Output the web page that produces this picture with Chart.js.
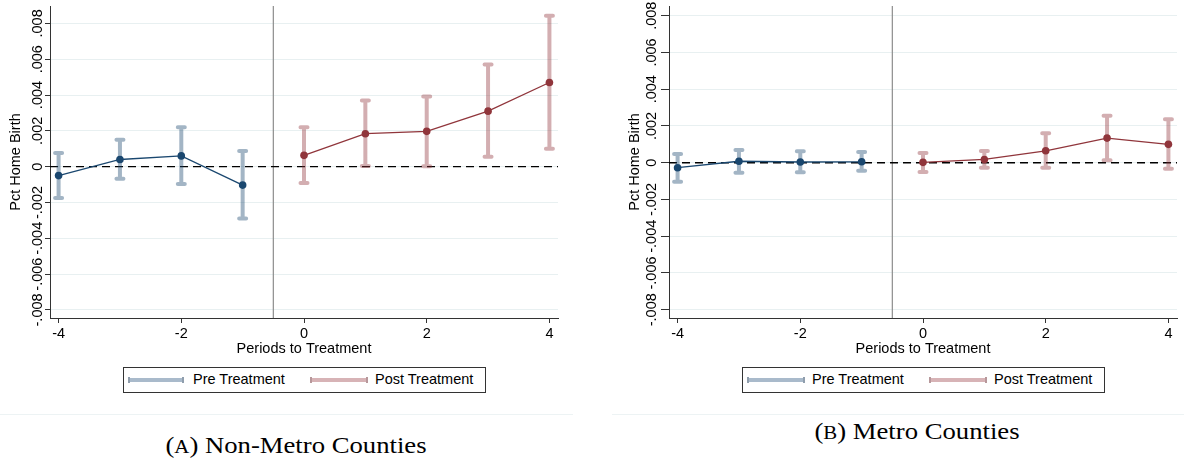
<!DOCTYPE html>
<html>
<head>
<meta charset="utf-8">
<script src="https://cdn.jsdelivr.net/npm/chart.js@4.4.1/dist/chart.umd.min.js"></script>
<style>
	body { margin: 0; background: #fff; width: 1184px; height: 464px; position: relative; overflow: hidden; font-family: "Liberation Sans", Arial, sans-serif; }
	canvas { position: absolute; top: 0; }
	.legend { position: absolute; top: 367px; width: 363px; height: 26px; border: 1px solid #333; box-sizing: border-box; font-size: 14.5px; color: #000; }
	.key { position: absolute; top: 10px; height: 4px; }
	.key::before, .key::after { content: ""; position: absolute; top: -1px; width: 2px; height: 6px; background: inherit; filter: brightness(0.85); }
	.key::before { left: 0; }
	.key::after { right: 0; }
	.lab { position: absolute; top: 3px; white-space: nowrap; }
	.rule { position: absolute; top: 414px; height: 1px; background: #edf3f4; }
	.caption { position: absolute; font-family: "Liberation Serif", "Times New Roman", serif; font-size: 23px; color: #000; transform: translate(-50%, -50%) scaleX(1.16); white-space: nowrap; }
	.caption small { font-size: 0.78em; }
</style>
</head>
<body>
<canvas id="nonMetro" width="590" height="365" style="left:0"></canvas>
<canvas id="metro" width="584" height="365" style="left:600px"></canvas>

<div class="legend" style="left:123px">
	<div class="key" style="left:4px;width:56px;background:#a9bacb"></div><span class="lab" style="left:69px">Pre Treatment</span>
	<div class="key" style="left:186px;width:58px;background:#d7b3b6"></div><span class="lab" style="left:251px">Post Treatment</span>
</div>
<div class="legend" style="left:742px">
	<div class="key" style="left:4px;width:58px;background:#a9bacb"></div><span class="lab" style="left:69px">Pre Treatment</span>
	<div class="key" style="left:186px;width:58px;background:#d7b3b6"></div><span class="lab" style="left:251px">Post Treatment</span>
</div>
<div class="rule" style="left:0;width:573px"></div>
<div class="rule" style="left:612px;width:572px"></div>
<div class="caption" style="left:296px;top:446px">(<small>A</small>) Non-Metro Counties</div>
<div class="caption" style="left:917px;top:432px">(<small>B</small>) Metro Counties</div>

<script>
const periodsPre = [-4, -3, -2, -1];
const periodsPost = [0, 1, 2, 3, 4];
const xTicks = [-4, -2, 0, 2, 4];
const yTicks = [-0.008, -0.006, -0.004, -0.002, 0, 0.002, 0.004, 0.006, 0.008];
const yTickLabels = ["-.008", "-.006", "-.004", "-.002", "0", ".002", ".004", ".006", ".008"];

// non-metro counties: estimate and 95% bounds
const nonMetroPre = [-0.0005, 0.0004, 0.0006, -0.00103];
const nonMetroPreLow = [-0.00175, -0.00067, -0.00097, -0.0029];
const nonMetroPreHigh = [0.00076, 0.0015, 0.0022, 0.00087];
const nonMetroPost = [0.00063, 0.00184, 0.00197, 0.0031, 0.0047];
const nonMetroPostLow = [-0.00091, 0.00003, 0.00002, 0.00056, 0.001];
const nonMetroPostHigh = [0.0022, 0.0037, 0.00392, 0.0057, 0.00843];

// metro counties
const metroPre = [-0.00027, 0.00008, 0.00004, 0.00005];
const metroPreLow = [-0.00103, -0.00054, -0.00052, -0.00043];
const metroPreHigh = [0.00047, 0.00069, 0.00062, 0.00058];
const metroPost = [0.00002, 0.00018, 0.00065, 0.00134, 0.001];
const metroPostLow = [-0.0005, -0.00027, -0.00027, 0.00013, -0.00033];
const metroPostHigh = [0.00053, 0.00064, 0.00161, 0.00256, 0.00236];

const navy = "#1a476f";
const maroon = "#90353b";
const font = { family: "'Liberation Sans', Arial, sans-serif", size: 14.5 };

const eventStudy = {
	id: "eventStudy",
	beforeDatasetsDraw(chart) {
		const { ctx, chartArea: area, scales: { x, y } } = chart;
		ctx.save();
		// treatment starts between -1 and 0
		const tx = x.getPixelForValue(-0.5);
		ctx.strokeStyle = "#8c8c8c";
		ctx.lineWidth = 1.2;
		ctx.beginPath();
		ctx.moveTo(tx, area.top);
		ctx.lineTo(tx, area.bottom);
		ctx.stroke();
		// zero line
		const zy = y.getPixelForValue(0);
		ctx.strokeStyle = "#000";
		ctx.lineWidth = 1.3;
		ctx.setLineDash([8, 5]);
		ctx.beginPath();
		ctx.moveTo(area.left, zy);
		ctx.lineTo(area.right, zy);
		ctx.stroke();
		ctx.setLineDash([]);
		// capped confidence intervals, one stroke per series so overlaps stay even
		ctx.lineWidth = 4;
		ctx.lineCap = "round";
		chart.data.datasets.forEach((ds) => {
			ctx.strokeStyle = ds.ciColor;
			ctx.beginPath();
			ds.data.forEach((pt, i) => {
				const px = x.getPixelForValue(pt.x);
				const lo = y.getPixelForValue(ds.ciLow[i]);
				const hi = y.getPixelForValue(ds.ciHigh[i]);
				ctx.moveTo(px, lo);
				ctx.lineTo(px, hi);
				ctx.moveTo(px - 3.5, lo);
				ctx.lineTo(px + 3.5, lo);
				ctx.moveTo(px - 3.5, hi);
				ctx.lineTo(px + 3.5, hi);
			});
			ctx.stroke();
		});
		ctx.restore();
	},
	afterDraw(chart, args, opts) {
		// vertical tick labels on the y axis
		const { ctx, scales: { y } } = chart;
		ctx.save();
		ctx.font = "14.5px 'Liberation Sans', Arial, sans-serif";
		ctx.fillStyle = "#000";
		ctx.textAlign = "center";
		ctx.textBaseline = "middle";
		yTicks.forEach((v, i) => {
			ctx.save();
			ctx.translate(y.right - opts.labelGap, y.getPixelForValue(v));
			ctx.rotate(-Math.PI / 2);
			ctx.fillText(yTickLabels[i], 0, 0);
			ctx.restore();
		});
		ctx.restore();
	},
};

const points = (xs, ys) => xs.map((x, i) => ({ x: x, y: ys[i] }));

const makePanel = (id, p) => {
	new Chart(document.getElementById(id), {
		type: "line",
		data: {
			datasets: [
				{
					data: points(periodsPre, p.pre),
					ciLow: p.preLow,
					ciHigh: p.preHigh,
					ciColor: "rgba(26, 71, 111, 0.4)",
					borderColor: navy,
					backgroundColor: navy,
					borderWidth: 1.3,
					pointRadius: 3.8,
					pointBorderWidth: 0,
				},
				{
					data: points(periodsPost, p.post),
					ciLow: p.postLow,
					ciHigh: p.postHigh,
					ciColor: "rgba(144, 53, 59, 0.4)",
					borderColor: maroon,
					backgroundColor: maroon,
					borderWidth: 1.3,
					pointRadius: 3.8,
					pointBorderWidth: 0,
				},
			],
		},
		options: {
			responsive: false,
			animation: false,
			devicePixelRatio: 1,
			layout: { padding: { left: p.padLeft, right: p.padRight, top: 6, bottom: 7 } },
			plugins: {
				legend: { display: false },
				tooltip: { enabled: false },
				eventStudy: { labelGap: p.labelGap },
			},
			scales: {
				x: {
					type: "linear",
					min: -4.14,
					max: 4.14,
					afterBuildTicks: (s) => { s.ticks = xTicks.map((v) => ({ value: v })); },
					afterFit: (s) => { s.height = 40; },
					grid: { drawOnChartArea: false, tickLength: 5, tickColor: "#333" },
					border: { color: "#333", width: 1 },
					ticks: { color: "#000", font: font, padding: 2, maxRotation: 0, callback: (v) => String(v) },
					title: { display: true, text: "Periods to Treatment", color: "#000", font: font, padding: 0 },
				},
				y: {
					type: "linear",
					min: p.yMin,
					max: p.yMax,
					afterBuildTicks: (s) => { s.ticks = yTicks.map((v) => ({ value: v })); },
					afterFit: (s) => { s.width = 50; },
					grid: { color: "#e8f0f1", lineWidth: 1, tickColor: "#333", tickLength: p.tickLength },
					border: { color: "#333", width: 1 },
					ticks: { display: false },
					title: { display: true, text: "Pct Home Birth", color: "#000", font: font, padding: { top: 7.3, bottom: 0 } },
				},
			},
		},
		plugins: [eventStudy],
	});
};

makePanel("nonMetro", {
	pre: nonMetroPre, preLow: nonMetroPreLow, preHigh: nonMetroPreHigh,
	post: nonMetroPost, postLow: nonMetroPostLow, postHigh: nonMetroPostHigh,
	yMin: -0.00845, yMax: 0.00897, padLeft: 0, padRight: 32, tickLength: 5, labelGap: 12.5,
});
makePanel("metro", {
	pre: metroPre, preLow: metroPreLow, preHigh: metroPreHigh,
	post: metroPost, postLow: metroPostLow, postHigh: metroPostHigh,
	yMin: -0.00845, yMax: 0.00853, padLeft: 19, padRight: 7, tickLength: 8, labelGap: 17.5,
});
</script>
</body>
</html>
